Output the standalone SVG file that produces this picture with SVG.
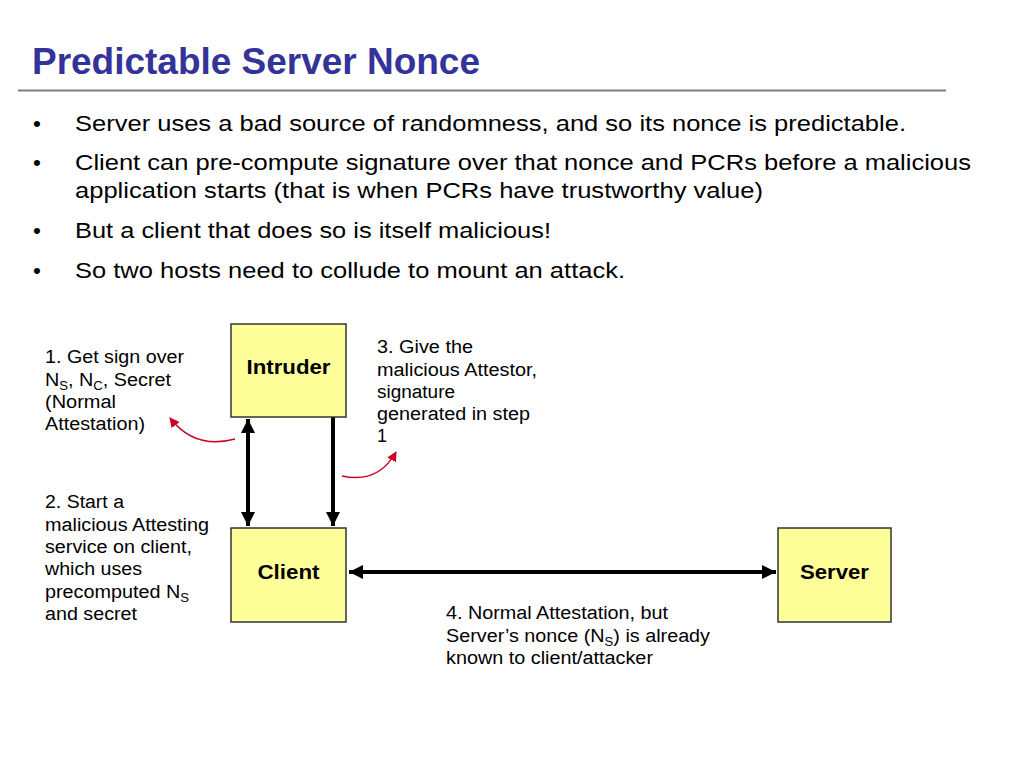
<svg xmlns="http://www.w3.org/2000/svg" width="1024" height="768" viewBox="0 0 1024 768">
<defs>
<style>
.t{font-family:"Liberation Sans",Arial,sans-serif;fill:#000}
.b{font-size:22.5px}
.l{font-size:18px}
.n{font-size:20.5px;font-weight:bold;text-anchor:middle}
.box{fill:#FFFF99;stroke:#333;stroke-width:1.5}
.blk{stroke:#000;stroke-width:4;fill:none}
.red{stroke:#CC0022;stroke-width:1.5;fill:none}
</style>
<marker id="ah" viewBox="0 0 10 10" refX="10" refY="5" markerWidth="14" markerHeight="14" markerUnits="userSpaceOnUse" orient="auto-start-reverse"><path d="M0,0 L10,5 L0,10 z" fill="#000"/></marker>
<marker id="rh" viewBox="0 0 10 10" refX="9" refY="5" markerWidth="10" markerHeight="10" markerUnits="userSpaceOnUse" orient="auto"><path d="M0,0 L10,5 L0,10 z" fill="#CC0022"/></marker>
</defs>
<rect width="1024" height="768" fill="#fff"/>
<text x="32" y="74" font-family="'Liberation Sans Narrow','Liberation Sans',Arial,sans-serif" font-weight="bold" font-size="36" fill="#333399" textLength="448" lengthAdjust="spacingAndGlyphs">Predictable Server Nonce</text>
<line x1="18" y1="90.5" x2="946" y2="90.5" stroke="#808080" stroke-width="2"/>
<g class="t b" lengthAdjust="spacingAndGlyphs">
<text x="33" y="131">•</text><text x="75" y="131" textLength="831" lengthAdjust="spacingAndGlyphs">Server uses a bad source of randomness, and so its nonce is predictable.</text>
<text x="33" y="170">•</text><text x="75" y="170" textLength="896" lengthAdjust="spacingAndGlyphs">Client can pre-compute signature over that nonce and PCRs before a malicious</text>
<text x="75" y="198" textLength="688" lengthAdjust="spacingAndGlyphs">application starts (that is when PCRs have trustworthy value)</text>
<text x="33" y="238">•</text><text x="75" y="238" textLength="476" lengthAdjust="spacingAndGlyphs">But a client that does so is itself malicious!</text>
<text x="33" y="278">•</text><text x="75" y="278" textLength="550" lengthAdjust="spacingAndGlyphs">So two hosts need to collude to mount an attack.</text>
</g>
<g id="connectors">
<line class="blk" x1="248" y1="419" x2="248" y2="526" marker-start="url(#ah)" marker-end="url(#ah)"/>
<line class="blk" x1="333" y1="417" x2="333" y2="526" marker-end="url(#ah)"/>
<line class="blk" x1="349" y1="572" x2="776" y2="572" marker-start="url(#ah)" marker-end="url(#ah)"/>
<path class="red" d="M235,439 Q195,450 170,418" marker-end="url(#rh)"/>
<path class="red" d="M342,476 Q378,484 396,452" marker-end="url(#rh)"/>
</g>
<g id="intruder"><rect class="box" x="231" y="324" width="115" height="93"/><text class="t n" x="288.5" y="374" textLength="84" lengthAdjust="spacingAndGlyphs">Intruder</text></g>
<g id="client"><rect class="box" x="231" y="528" width="115" height="94"/><text class="t n" x="288.5" y="579" textLength="62" lengthAdjust="spacingAndGlyphs">Client</text></g>
<g id="server"><rect class="box" x="778" y="528" width="113" height="94"/><text class="t n" x="834.5" y="579" textLength="69" lengthAdjust="spacingAndGlyphs">Server</text></g>
<g class="t l">
<text x="45" y="363" textLength="139" lengthAdjust="spacingAndGlyphs">1. Get sign over</text>
<text x="45" y="386" textLength="126" lengthAdjust="spacingAndGlyphs">N<tspan font-size="12" dy="4">S</tspan><tspan dy="-4">, N</tspan><tspan font-size="12" dy="4">C</tspan><tspan dy="-4">, Secret</tspan></text>
<text x="45" y="408" textLength="71" lengthAdjust="spacingAndGlyphs">(Normal</text>
<text x="45" y="430" textLength="100" lengthAdjust="spacingAndGlyphs">Attestation)</text>
<text x="45" y="508" textLength="79" lengthAdjust="spacingAndGlyphs">2. Start a</text>
<text x="45" y="531" textLength="164" lengthAdjust="spacingAndGlyphs">malicious Attesting</text>
<text x="45" y="553" textLength="147" lengthAdjust="spacingAndGlyphs">service on client,</text>
<text x="45" y="575" textLength="97" lengthAdjust="spacingAndGlyphs">which uses</text>
<text x="45" y="598" textLength="144" lengthAdjust="spacingAndGlyphs">precomputed N<tspan font-size="12" dy="4">S</tspan></text>
<text x="45" y="620" textLength="92" lengthAdjust="spacingAndGlyphs">and secret</text>
<text x="377" y="353" textLength="96" lengthAdjust="spacingAndGlyphs">3. Give the</text>
<text x="377" y="376" textLength="160" lengthAdjust="spacingAndGlyphs">malicious Attestor,</text>
<text x="377" y="398" textLength="78" lengthAdjust="spacingAndGlyphs">signature</text>
<text x="377" y="420" textLength="153" lengthAdjust="spacingAndGlyphs">generated in step</text>
<text x="377" y="442">1</text>
<text x="446" y="619" textLength="222" lengthAdjust="spacingAndGlyphs">4. Normal Attestation, but</text>
<text x="446" y="642" textLength="264" lengthAdjust="spacingAndGlyphs">Server’s nonce (N<tspan font-size="12" dy="4">S</tspan><tspan dy="-4">) is already</tspan></text>
<text x="446" y="664" textLength="207" lengthAdjust="spacingAndGlyphs">known to client/attacker</text>
</g>
</svg>
